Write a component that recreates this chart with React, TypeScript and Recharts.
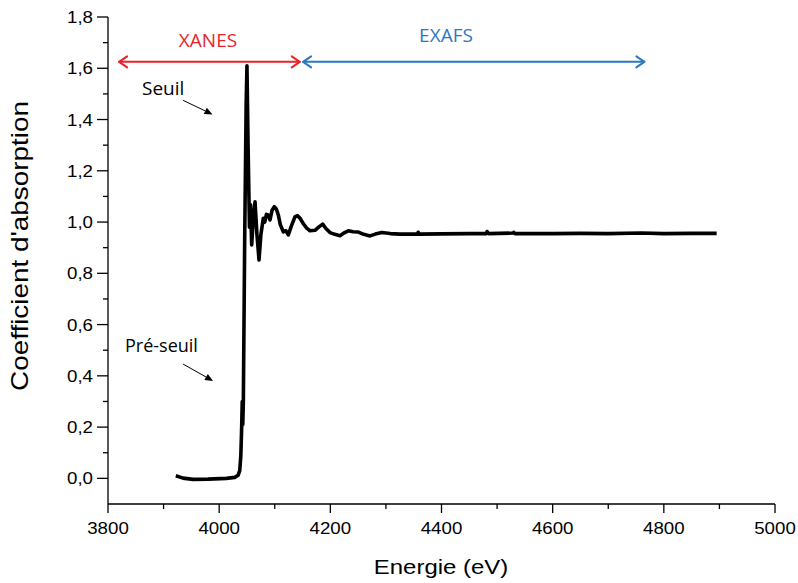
import { Customized, Line, LineChart, ReferenceLine, XAxis, YAxis } from "recharts";

document.body.style.margin = "0";

const energy = [
  3922, 3935, 3953, 3980, 4013, 4028, 4034, 4037, 4039, 4040.5, 4041.5, 4042.5, 4043.5, 4046, 4048.5, 4050, 4052,
  4054.5, 4056.5, 4058.5, 4061, 4064.5, 4068, 4071.7, 4075, 4079.4, 4082, 4085, 4088.4, 4091.5, 4095, 4099.2, 4103,
  4106.4, 4110, 4115.4, 4120, 4124.4, 4130, 4136.5, 4141, 4145.5, 4151, 4157.5, 4163.4, 4172.4, 4179, 4186.3, 4192,
  4199.4, 4208, 4217.4, 4225, 4232.4, 4241, 4250.4, 4260, 4271.4, 4281, 4292.4, 4308, 4325, 4357, 4358, 4360, 4400,
  4450, 4481, 4482, 4485, 4529, 4530, 4532, 4600, 4650, 4700, 4760, 4800, 4850, 4895,
];
const absorption = [
  0.01, 0.001, -0.004, -0.003, 0.0, 0.004, 0.012, 0.03, 0.09, 0.2, 0.3, 0.21, 0.3, 0.95, 1.45, 1.61, 1.3, 0.98, 1.067,
  0.911, 1.0, 1.079, 0.95, 0.852, 0.95, 1.015, 1.0, 1.03, 1.028, 1.008, 1.045, 1.06, 1.05, 1.028, 0.99, 0.962, 0.966,
  0.95, 0.985, 1.021, 1.025, 1.015, 0.995, 0.976, 0.966, 0.968, 0.98, 0.992, 0.975, 0.959, 0.952, 0.947, 0.958, 0.966,
  0.962, 0.961, 0.952, 0.946, 0.953, 0.959, 0.955, 0.953, 0.953, 0.96, 0.953, 0.954, 0.955, 0.955, 0.963, 0.955, 0.957,
  0.96, 0.955, 0.955, 0.956, 0.955, 0.957, 0.955, 0.956, 0.956,
];

const xTicks = [3800, 3900, 4000, 4100, 4200, 4300, 4400, 4500, 4600, 4700, 4800, 4900, 5000];
const yTicks = [0, 0.1, 0.2, 0.3, 0.4, 0.5, 0.6, 0.7, 0.8, 0.9, 1.0, 1.1, 1.2, 1.3, 1.4, 1.5, 1.6, 1.7, 1.8];

// region arrows and annotation arrows, in data units
const xanesSpan = [3820, 4145];
const exafsSpan = [4151, 4765];
const spanLevel = 1.625;
const seuilArrow = [{ x: 3935, y: 1.475 }, { x: 3988, y: 1.42 }];
const preSeuilArrow = [{ x: 3935, y: 0.446 }, { x: 3989, y: 0.38 }];

const data = energy.map((e, i) => ({ e, mu: absorption[i] }));

const RED = "#e8232b";
const BLUE = "#2b78c2";
const AXIS_FONT = "'Liberation Sans', Arial, sans-serif";
const NOTE_FONT = "'Open Sans', sans-serif";
const WIDEN = 1.1;

function XTick(props: any) {
  const { x, y, payload } = props;
  const major = payload.value % 200 === 0;
  return (
    <g>
      <line x1={x} y1={y} x2={x} y2={y + (major ? 9 : 5)} stroke="#000" strokeWidth={1.3} />
      {major && (
        <text
          x={0}
          y={0}
          textAnchor="middle"
          fontFamily={AXIS_FONT}
          fontSize={17}
          fill="#000"
          transform={`translate(${x} ${y + 30}) scale(${WIDEN} 1)`}
        >
          {payload.value}
        </text>
      )}
    </g>
  );
}

function YTick(props: any) {
  const { x, y, payload } = props;
  const v = Math.round(payload.value * 10);
  const major = v % 2 === 0;
  return (
    <g>
      <line x1={x - (major ? 11 : 5)} y1={y} x2={x} y2={y} stroke="#000" strokeWidth={1.3} />
      {major && (
        <text
          x={0}
          y={0}
          textAnchor="end"
          fontFamily={AXIS_FONT}
          fontSize={17}
          fill="#000"
          transform={`translate(${x - 15} ${y + 6}) scale(${WIDEN} 1)`}
        >
          {(v / 10).toFixed(1).replace(".", ",")}
        </text>
      )}
    </g>
  );
}

function DoubleArrow(color: string) {
  return (p: any) => {
    const { x1, y1, x2, y2 } = p;
    const h = 8;
    const w = 5.5;
    return (
      <g stroke={color} strokeWidth={2} fill="none" strokeLinecap="round" strokeLinejoin="round">
        <line x1={x1} y1={y1} x2={x2} y2={y2} />
        <polyline points={`${x1 + h},${y1 - w} ${x1},${y1} ${x1 + h},${y1 + w}`} />
        <polyline points={`${x2 - h},${y2 - w} ${x2},${y2} ${x2 - h},${y2 + w}`} />
      </g>
    );
  };
}

function SmallArrow(p: any) {
  const { x1, y1, x2, y2 } = p;
  const a = Math.atan2(y2 - y1, x2 - x1);
  const len = 8;
  const half = 3.5;
  const bx = x2 - len * Math.cos(a);
  const by = y2 - len * Math.sin(a);
  const nx = -Math.sin(a) * half;
  const ny = Math.cos(a) * half;
  return (
    <g>
      <line x1={x1} y1={y1} x2={bx} y2={by} stroke="#000" strokeWidth={1} />
      <polygon points={`${x2},${y2} ${bx + nx},${by + ny} ${bx - nx},${by - ny}`} fill="#000" />
    </g>
  );
}

function Labels() {
  return (
    <g>
      <text
        x={0}
        y={0}
        textAnchor="middle"
        fontFamily={AXIS_FONT}
        fontSize={24}
        fill="#000"
        transform="translate(28 246) rotate(-90)"
        textLength={290}
        lengthAdjust="spacingAndGlyphs"
      >
        Coefficient d'absorption
      </text>
      <text
        x={0}
        y={0}
        textAnchor="middle"
        fontFamily={AXIS_FONT}
        fontSize={21}
        fill="#000"
        transform="translate(441 574) scale(1.14 1)"
      >
        Energie (eV)
      </text>
      <text x={208} y={47} textAnchor="middle" fontFamily={NOTE_FONT} fontSize={19} fill={RED}>
        XANES
      </text>
      <text x={446} y={42} textAnchor="middle" fontFamily={NOTE_FONT} fontSize={19} fill={BLUE}>
        EXAFS
      </text>
      <text x={142} y={95} fontFamily={NOTE_FONT} fontSize={19} fill="#000">
        Seuil
      </text>
      <text x={125} y={352} fontFamily={NOTE_FONT} fontSize={18} fill="#000">
        Pré-seuil
      </text>
    </g>
  );
}

export default function App() {
  return (
    <div style={{ width: 798, height: 583, background: "#fff" }}>
      <LineChart width={798} height={583} data={data} margin={{ top: 17, right: 23, left: 0, bottom: 0 }}>
        <XAxis
          dataKey="e"
          type="number"
          domain={[3800, 5000]}
          ticks={xTicks}
          interval={0}
          height={79}
          tickSize={0}
          tickMargin={0}
          tickLine={false}
          tick={<XTick />}
          axisLine={{ stroke: "#000", strokeWidth: 1.3 }}
          allowDataOverflow
        />
        <YAxis
          type="number"
          domain={[-0.1, 1.8]}
          ticks={yTicks}
          interval={0}
          width={108}
          tickSize={0}
          tickMargin={0}
          tickLine={false}
          tick={<YTick />}
          axisLine={{ stroke: "#000", strokeWidth: 1.3 }}
          allowDataOverflow
        />
        <Line
          dataKey="mu"
          type="linear"
          stroke="#000"
          strokeWidth={3.6}
          strokeLinejoin="round"
          dot={false}
          isAnimationActive={false}
        />
        <ReferenceLine
          segment={[{ x: xanesSpan[0], y: spanLevel }, { x: xanesSpan[1], y: spanLevel }]}
          shape={DoubleArrow(RED)}
        />
        <ReferenceLine
          segment={[{ x: exafsSpan[0], y: spanLevel }, { x: exafsSpan[1], y: spanLevel }]}
          shape={DoubleArrow(BLUE)}
        />
        <ReferenceLine segment={seuilArrow} shape={SmallArrow} />
        <ReferenceLine segment={preSeuilArrow} shape={SmallArrow} />
        <Customized component={<Labels />} />
      </LineChart>
    </div>
  );
}
